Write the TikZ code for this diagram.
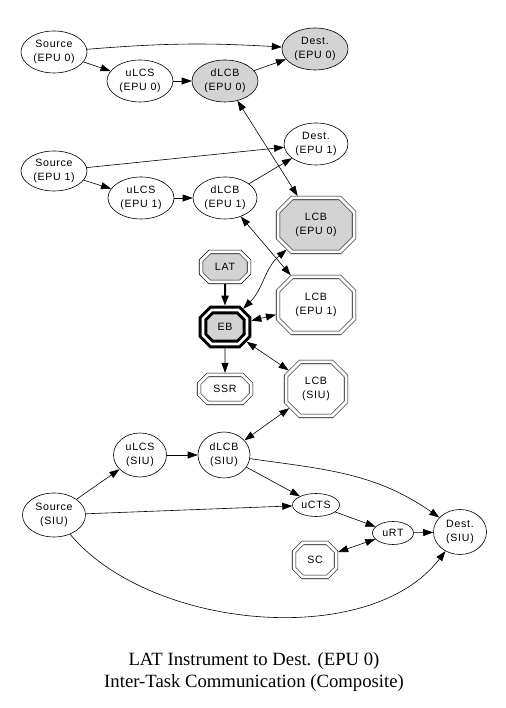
\documentclass[tikz,border=0pt]{standalone}
\usepackage{fontspec}
\setmainfont{Liberation Serif}
\newfontfamily\labelfont[LetterSpace=7]{Liberation Sans}
\usetikzlibrary{positioning,shapes.geometric,shapes.misc,arrows.meta}
\definecolor{bufGray}{RGB}{211,211,211}
\tikzset{
    task/.style={
        ellipse,
        draw,
        line width=0.6pt,
        inner sep=0pt,
        minimum width=66pt,
        minimum height=42pt,
        align=center,
        font=\labelfont\fontsize{10.6}{14}\selectfont
    },
    buffer/.style={
        chamfered rectangle,
        chamfered rectangle xsep=7pt,
        chamfered rectangle ysep=7pt,
        draw,
        double,
        double distance=3pt,
        line width=0.6pt,
        outer sep=2.1pt,
        inner sep=0pt,
        align=center,
        font=\labelfont\fontsize{10.6}{14}\selectfont
    },
    small/.style={
        chamfered rectangle xsep=5pt,
        chamfered rectangle ysep=5pt
    },
    hub/.style={
        buffer,
        line width=3pt,
        double distance=2.6pt,
        outer sep=4.3pt
    },
    busy/.style={fill=bufGray},
    ptr/.style={
        -{Triangle[length=10pt,width=7pt]},
        line width=0.6pt
    },
    dptr/.style={
        {Triangle[length=10pt,width=7pt]}-{Triangle[length=10pt,width=7pt]},
        line width=0.6pt
    }
}

\begin{document}
\begin{tikzpicture}[x=1pt, y=1pt]
    \useasboundingbox (0,0) rectangle (505,708);

    % EPU 0
    \node[task] (srcA) at (54,656) {Source\\(EPU 0)};
    \node[task, busy] (dstA) at (315,659) {Dest.\\(EPU 0)};
    \node[task] (ulcsA) at (140,627) {uLCS\\(EPU 0)};
    \node[task, busy] (dlcbA) at (225,627) {dLCB\\(EPU 0)};

    % EPU 1
    \node[task, minimum width=64pt] (dstB) at (316,564) {Dest.\\(EPU 1)};
    \node[task, minimum height=40pt] (srcB) at (54,537) {Source\\(EPU 1)};
    \node[task] (ulcsB) at (141,510) {uLCS\\(EPU 1)};
    \node[task, minimum width=64pt] (dlcbB) at (225,510) {dLCB\\(EPU 1)};

    % buffers
    \node[buffer, busy, minimum width=76pt, minimum height=54pt] (lcbA) at (316,483) {LCB\\(EPU 0)};
    \node[buffer, small, busy, minimum width=48pt, minimum height=30pt] (lat) at (225,441) {LAT};
    \node[buffer, minimum width=76pt, minimum height=56pt] (lcbB) at (316,403) {LCB\\(EPU 1)};
    \node[hub, small, busy, minimum width=44pt, minimum height=34pt] (eb) at (225,381) {EB};
    \node[buffer, small, minimum width=52pt, minimum height=28pt] (ssr) at (225,319) {SSR};
    \node[buffer, minimum width=60pt, minimum height=54pt] (lcbS) at (316,319) {LCB\\(SIU)};

    % SIU
    \node[task, minimum width=53pt, minimum height=44pt] (ulcsS) at (140,253) {uLCS\\(SIU)};
    \node[task, minimum width=52pt, minimum height=46pt] (dlcbS) at (224,253) {dLCB\\(SIU)};
    \node[task, minimum width=63pt, minimum height=44pt] (srcS) at (54,193) {Source\\(SIU)};
    \node[task, minimum width=47pt, minimum height=23pt] (ucts) at (316,203) {uCTS};
    \node[task, minimum width=41pt, minimum height=23pt] (urt) at (393,175) {uRT};
    \node[task, minimum width=53pt, minimum height=45pt] (dstS) at (460,176) {Dest.\\(SIU)};
    \node[buffer, small, minimum width=42pt, minimum height=34pt] (sc) at (315,148) {SC};

    \draw[ptr] (srcA) to[bend left=4] (dstA);
    \draw[ptr] (srcA) -- (ulcsA);
    \draw[ptr] (ulcsA) -- (dlcbA);
    \draw[ptr] (dlcbA) -- (dstA);
    \draw[dptr] (dlcbA) -- (lcbA);

    \draw[ptr] (srcB) -- (dstB);
    \draw[ptr] (srcB) -- (ulcsB);
    \draw[ptr] (ulcsB) -- (dlcbB);
    \draw[ptr] (dlcbB) -- (dstB);
    \draw[dptr] (dlcbB) -- (lcbB);

    \draw[ptr, line width=2pt] (lat) -- (eb);
    \draw[ptr] (eb) -- (ssr);
    \draw[dptr] (eb) to[out=45, in=-140] (lcbA);
    \draw[dptr] (eb) -- (lcbB);
    \draw[dptr] (eb) -- (lcbS);
    \draw[dptr] (dlcbS) -- (lcbS);

    \draw[ptr] (srcS) -- (ulcsS);
    \draw[ptr] (ulcsS) -- (dlcbS);
    \draw[ptr] (dlcbS) -- (ucts);
    \draw[ptr] (dlcbS) to[out=-8, in=145] (dstS);
    \draw[ptr] (srcS) -- (ucts);
    \draw[ptr] (ucts) -- (urt);
    \draw[ptr] (urt) -- (dstS);
    \draw[dptr] (sc) -- (urt);
    \draw[ptr] (srcS) .. controls +(96,-115) and +(-90,-118) .. (dstS);

    \node[font=\fontsize{18.7}{22.5}\selectfont, align=center] (title) at (254,36)
        {LAT Instrument to Dest. (EPU 0)\\Inter-Task Communication (Composite)};
\end{tikzpicture}
\end{document}
